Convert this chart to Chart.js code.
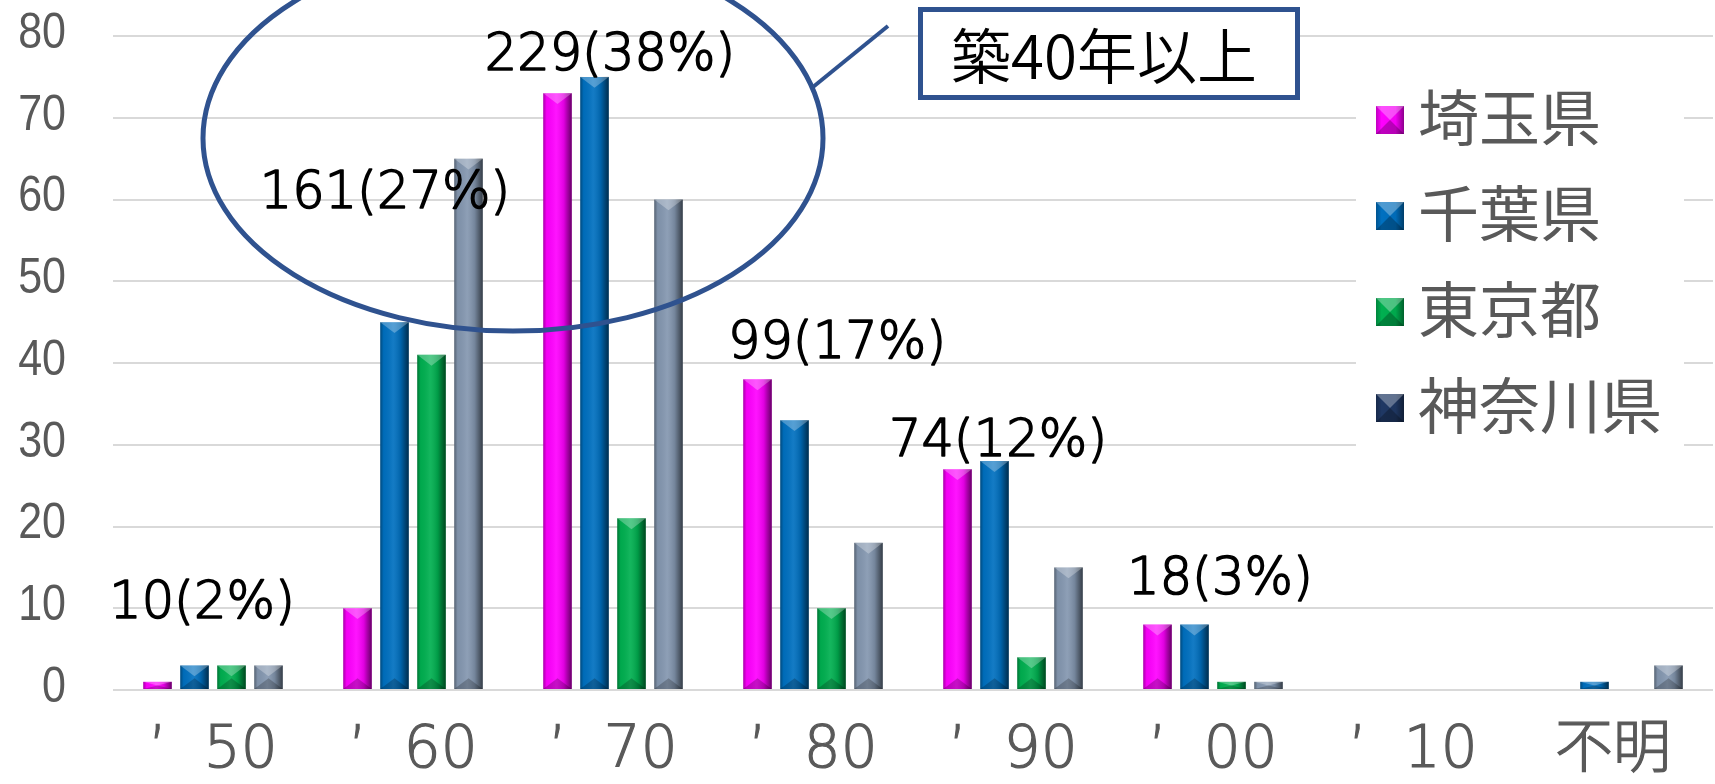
<!DOCTYPE html>
<html lang="ja">
<head>
<meta charset="utf-8">
<script src="https://cdn.jsdelivr.net/npm/chart.js@4.4.1/dist/chart.umd.min.js"></script>
<style>
  html, body { margin: 0; padding: 0; background: #ffffff; }
  #wrap { width: 1715px; height: 784px; }
</style>
</head>
<body>
<div id="wrap"><canvas id="c" width="1715" height="784"></canvas></div>
<script>
// Construction decade of the buildings, and counts per prefecture
const decades   = ['’50', '’60', '’70', '’80', '’90', '’00', '’10', '不明'];
const saitama   = [1, 10, 73, 38, 27, 8, 0, 0];
const chiba     = [3, 45, 75, 33, 28, 8, 0, 1];
const tokyo     = [3, 41, 21, 10, 4, 1, 0, 0];
const kanagawa  = [3, 65, 60, 18, 15, 1, 0, 3];
const prefectures = ['埼玉県', '千葉県', '東京都', '神奈川県'];
const yTicks    = [0, 10, 20, 30, 40, 50, 60, 70, 80];
const calloutText = '築40年以上';

// Styling
const barColors    = ['#FF00FF', '#0070C0', '#00B050', '#8497B0'];
const legendColors = ['#FF00FF', '#0070C0', '#00B050', '#1F3864'];
const accent = '#2F528F';
const axisText = '#595959';
const jpFont = "'Noto Sans CJK JP', 'Noto Sans', sans-serif";
const numFont = "'DejaVu Sans', 'Noto Sans CJK JP', sans-serif";

// Placement of the total labels: pixel shift from the group centre and height in axis units
const totalLabelLayout = [
  { dx: -11, level: 10.4 },
  { dx: -28, level: 60.6 },
  { dx: -3,  level: 77.5 },
  { dx: 24,  level: 42.2 },
  { dx: -15, level: 30.2 },
  { dx: 7,   level: 13.4 }
];

const series = [saitama, chiba, tokyo, kanagawa];
const totals = decades.map((_, i) => series.reduce((s, arr) => s + arr[i], 0));
const grandTotal = totals.reduce((a, b) => a + b, 0);

// Bevelled look for each bar
const bevelPlugin = {
  id: 'bevel',
  afterDatasetDraw(chart, args) {
    const ctx = chart.ctx;
    args.meta.data.forEach(el => {
      const p = el.getProps(['x', 'y', 'base', 'width'], true);
      const h = p.base - p.y;
      if (h <= 0.5) return;
      const left = p.x - p.width / 2;
      const w = p.width;
      ctx.save();
      const g = ctx.createLinearGradient(left, 0, left + w, 0);
      g.addColorStop(0, 'rgba(0,0,0,0.35)');
      g.addColorStop(0.12, 'rgba(0,0,0,0.04)');
      g.addColorStop(0.45, 'rgba(255,255,255,0.08)');
      g.addColorStop(0.72, 'rgba(0,0,0,0.12)');
      g.addColorStop(1, 'rgba(0,0,0,0.6)');
      ctx.fillStyle = g;
      ctx.fillRect(left, p.y, w, h);
      const t = Math.min(w * 0.38, h / 2);
      ctx.fillStyle = 'rgba(255,255,255,0.28)';
      ctx.beginPath();
      ctx.moveTo(left, p.y); ctx.lineTo(left + w, p.y); ctx.lineTo(p.x, p.y + t); ctx.closePath();
      ctx.fill();
      ctx.fillStyle = 'rgba(0,0,0,0.22)';
      ctx.beginPath();
      ctx.moveTo(left, p.base); ctx.lineTo(left + w, p.base); ctx.lineTo(p.x, p.base - t); ctx.closePath();
      ctx.fill();
      ctx.restore();
    });
  }
};

// Condensed value labels for the vertical axis
const yLabelPlugin = {
  id: 'yLabels',
  afterDraw(chart) {
    const ctx = chart.ctx;
    const ys = chart.scales.y;
    ctx.save();
    ctx.font = "50px 'Liberation Sans', sans-serif";
    ctx.fillStyle = axisText;
    ctx.textAlign = 'right';
    ctx.textBaseline = 'middle';
    ys.ticks.forEach(t => {
      const yy = ys.getPixelForValue(t.value) - 2;
      ctx.save();
      ctx.translate(66, yy);
      ctx.scale(0.86, 1);
      ctx.fillText(String(t.value), 0, 0);
      ctx.restore();
    });
    ctx.restore();
  }
};

// Group totals with their share of all buildings
const totalsPlugin = {
  id: 'totals',
  afterDatasetsDraw(chart) {
    const ctx = chart.ctx;
    const xs = chart.scales.x, ys = chart.scales.y;
    ctx.save();
    ctx.font = '300 51px ' + numFont;
    ctx.fillStyle = '#000000';
    ctx.strokeStyle = '#000000';
    ctx.lineWidth = 1.6;
    ctx.lineJoin = 'round';
    ctx.textAlign = 'center';
    ctx.textBaseline = 'middle';
    totalLabelLayout.forEach((pos, i) => {
      const pct = Math.round(totals[i] / grandTotal * 100);
      const text = totals[i] + '(' + pct + '%)';
      const tx = xs.getPixelForValue(i) + pos.dx, ty = ys.getPixelForValue(pos.level);
      ctx.fillText(text, tx, ty);
      ctx.strokeText(text, tx, ty);
    });
    ctx.restore();
  }
};

// Ellipse around the older decades, callout box and legend
const overlayPlugin = {
  id: 'overlay',
  afterDraw(chart) {
    const ctx = chart.ctx;
    const xs = chart.scales.x, ys = chart.scales.y;
    const step = xs.getPixelForValue(1) - xs.getPixelForValue(0);
    const unit = ys.getPixelForValue(0) - ys.getPixelForValue(1);
    ctx.save();

    // ellipse
    const cx = xs.getPixelForValue(1.5), cy = ys.getPixelForValue(67.5);
    ctx.strokeStyle = accent;
    ctx.lineWidth = 5;
    ctx.beginPath();
    ctx.ellipse(cx, cy, step * 1.55, unit * 23.6, 0, 0, Math.PI * 2);
    ctx.stroke();

    // connector
    ctx.lineWidth = 4;
    ctx.beginPath();
    ctx.moveTo(813, 87);
    ctx.lineTo(888, 26);
    ctx.stroke();

    // callout box
    ctx.fillStyle = '#ffffff';
    ctx.fillRect(920, 9, 378, 89);
    ctx.lineWidth = 5;
    ctx.strokeRect(920.5, 9.5, 377, 88);
    ctx.fillStyle = '#000000';
    ctx.font = '350 60px ' + jpFont;
    ctx.textAlign = 'center';
    ctx.textBaseline = 'middle';
    ctx.fillText(calloutText, 1104, 56);

    // legend
    ctx.fillStyle = '#ffffff';
    ctx.fillRect(1356, 72, 328, 385);
    ctx.font = '61px ' + jpFont;
    ctx.textAlign = 'left';
    ctx.textBaseline = 'middle';
    prefectures.forEach((name, i) => {
      const yc = 120 + i * 96;
      const s = 28, sx = 1376, sy = yc - s / 2;
      ctx.fillStyle = legendColors[i];
      ctx.fillRect(sx, sy, s, s);
      const g = ctx.createLinearGradient(sx, 0, sx + s, 0);
      g.addColorStop(0, 'rgba(0,0,0,0.25)');
      g.addColorStop(0.2, 'rgba(0,0,0,0)');
      g.addColorStop(0.7, 'rgba(0,0,0,0.05)');
      g.addColorStop(1, 'rgba(0,0,0,0.45)');
      ctx.fillStyle = g;
      ctx.fillRect(sx, sy, s, s);
      ctx.fillStyle = 'rgba(255,255,255,0.3)';
      ctx.beginPath();
      ctx.moveTo(sx, sy); ctx.lineTo(sx + s, sy); ctx.lineTo(sx + s / 2, sy + s / 2); ctx.closePath();
      ctx.fill();
      ctx.fillStyle = 'rgba(0,0,0,0.25)';
      ctx.beginPath();
      ctx.moveTo(sx, sy + s); ctx.lineTo(sx + s, sy + s); ctx.lineTo(sx + s / 2, sy + s / 2); ctx.closePath();
      ctx.fill();
      ctx.fillStyle = axisText;
      ctx.fillText(name, 1418, yc - 2);
    });
    ctx.restore();
  }
};

new Chart(document.getElementById('c'), {
  type: 'bar',
  data: {
    labels: decades,
    datasets: series.map((values, i) => ({
      label: prefectures[i],
      data: values,
      backgroundColor: barColors[i],
      borderWidth: 0,
      categoryPercentage: 0.74,
      barPercentage: 0.77
    }))
  },
  options: {
    responsive: false,
    animation: false,
    devicePixelRatio: 1,
    layout: { padding: { top: 36, right: 2, left: 0, bottom: 0 } },
    plugins: {
      legend: { display: false },
      tooltip: { enabled: false }
    },
    scales: {
      x: {
        grid: { display: false, drawTicks: false },
        border: { display: false },
        ticks: {
          color: axisText,
          font: { family: numFont, size: 58, weight: 300 },
          padding: 27,
          maxRotation: 0,
          autoSkip: false,
          textStrokeColor: axisText,
          textStrokeWidth: 1.2,
          callback(value) { return this.getLabelForValue(value).replace('’', '’  '); }
        },
        afterFit(scale) {
          scale.height = 94;
          scale.paddingLeft = 0;
          scale.paddingRight = 0;
        }
      },
      y: {
        min: 0,
        max: 80,
        afterBuildTicks(scale) { scale.ticks = yTicks.map(v => ({ value: v })); },
        grid: { color: '#D9D9D9', lineWidth: 2, drawTicks: false },
        border: { display: false },
        ticks: { display: false },
        afterFit(scale) {
          scale.width = 113;
          scale.paddingTop = 0;
          scale.paddingBottom = 0;
        }
      }
    }
  },
  plugins: [bevelPlugin, totalsPlugin, overlayPlugin, yLabelPlugin]
});
</script>
</body>
</html>
